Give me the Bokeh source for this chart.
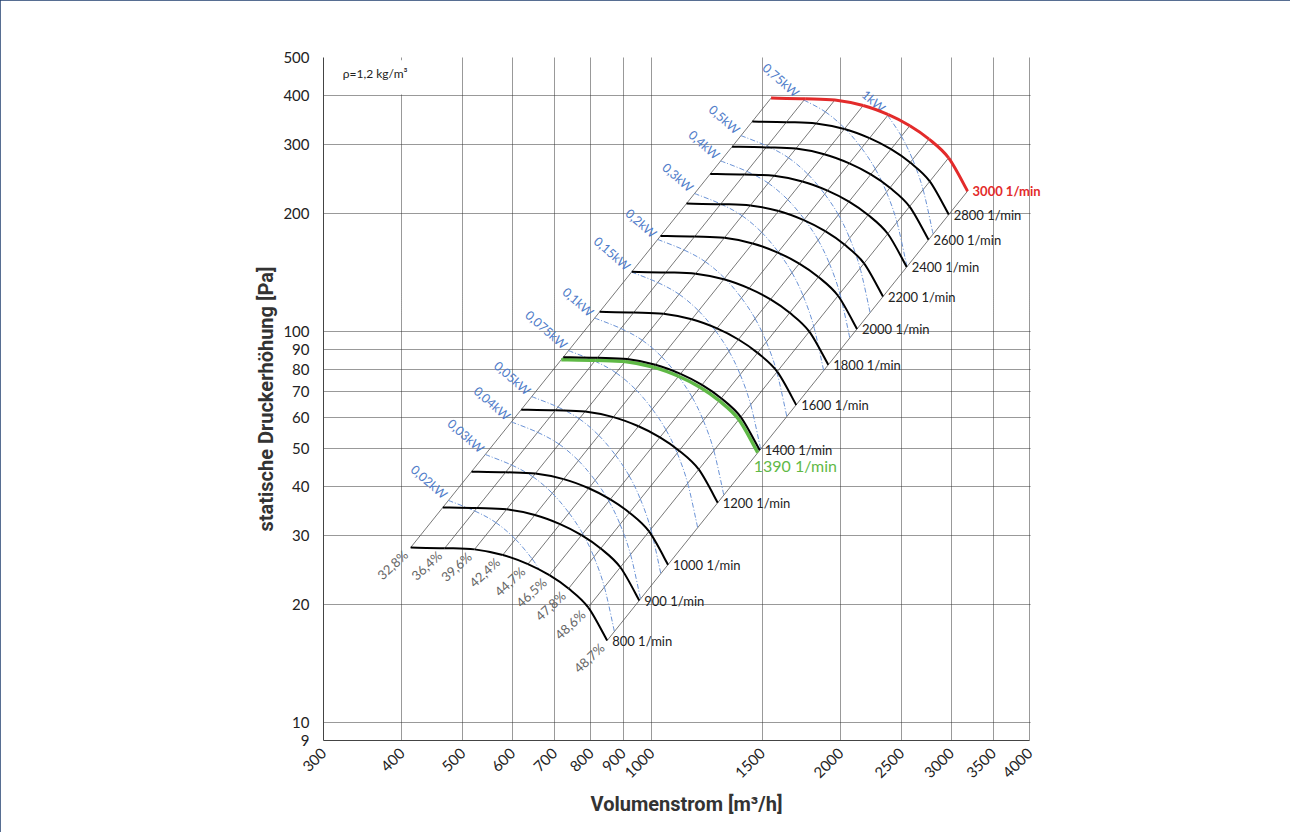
import numpy as np
from bokeh.plotting import figure
from bokeh.models import FixedTicker, PrintfTickFormatter
from bokeh.core.properties import value
from bokeh.embed import file_html
from bokeh.resources import INLINE

# ---------------- data ----------------
# operating points of the 800 1/min curve (one per efficiency line)
base_flow = [413, 468, 522, 579, 635, 687, 737, 792, 849]            # m3/h
base_pressure = [28.0, 27.9, 27.7, 26.8, 25.4, 23.8, 22.0, 19.7, 16.2]  # Pa
efficiency_labels = ["32,8%", "36,4%", "39,6%", "42,4%", "44,7%",
                     "46,5%", "47,8%", "48,6%", "48,7%"]
# shaft power at 800 1/min on each efficiency line (W), estimated from the kW lines
base_power_w = [13.2, 14.4, 15.8, 17.4, 19.1, 20.8, 22.7, 25.1, 27.7]
base_speed = 800
speeds = [800, 900, 1000, 1200, 1400, 1600, 1800, 2000, 2200, 2400, 2600, 2800, 3000]
max_speed = 3000
op_speed = 1390
power_levels_kw = [0.02, 0.03, 0.04, 0.05, 0.075, 0.1, 0.15, 0.2, 0.3, 0.4, 0.5, 0.75, 1.0]
power_labels = ["0,02kW", "0,03kW", "0,04kW", "0,05kW", "0,075kW", "0,1kW", "0,15kW",
                "0,2kW", "0,3kW", "0,4kW", "0,5kW", "0,75kW", "1kW"]
x_ticks = [300, 400, 500, 600, 700, 800, 900, 1000, 1500, 2000, 2500, 3000, 3500, 4000]
y_ticks = [9, 10, 20, 30, 40, 50, 60, 70, 80, 90, 100, 200, 300, 400, 500]
x_axis_min, x_axis_max = 300, 4000
y_axis_min, y_axis_max = 9, 500
density_note = "ρ=1,2 kg/m³"
x_title = "Volumenstrom [m³/h]"
y_title = "statische Druckerhöhung [Pa]"

# ---------------- figure ----------------
# the frame reaches a little past 4000 so the "3000 1/min" label is not clipped;
# that strip is masked white and the axis is bounded to 300..4000
x_frame_max = 4300
FONT = value("Lato")
p = figure(x_axis_type="log", y_axis_type="log",
           x_range=(x_axis_min, x_frame_max), y_range=(y_axis_min, y_axis_max),
           frame_width=726, frame_height=683,
           min_border_left=323, min_border_right=241, min_border_top=57, min_border_bottom=92,
           output_backend="svg", toolbar_location=None,
           styles={"outline": "2px solid #1f3e6e", "outline-offset": "-2px"})
p.background_fill_color = "white"
p.border_fill_color = "white"
p.outline_line_color = None

for ax, ticks in ((p.xaxis, x_ticks), (p.yaxis, y_ticks)):
    ax.ticker = FixedTicker(ticks=ticks)
    ax.formatter = PrintfTickFormatter(format="%d")
    ax.axis_line_color = "#444444"
    ax.axis_line_width = 1
    ax.major_tick_line_color = None
    ax.minor_tick_line_color = None
    ax.major_label_text_font = "Lato"
    ax.major_label_text_font_size = "15px"
    ax.major_label_text_color = "#222222"
    ax.axis_label_text_font = "Roboto"
    ax.axis_label_text_font_size = "20px"
    ax.axis_label_text_font_style = "bold"
    ax.axis_label_text_color = "#333333"

p.xaxis.bounds = (x_axis_min, x_axis_max)
p.xaxis.major_label_orientation = np.pi / 4
p.xaxis.major_label_standoff = 4
p.yaxis.major_label_standoff = 8
p.xaxis.axis_label = x_title
p.yaxis.axis_label = y_title
p.xaxis.axis_label_standoff = 6
p.yaxis.axis_label_standoff = 2

for g, ticks in ((p.xgrid, x_ticks), (p.ygrid, y_ticks)):
    g.ticker = FixedTicker(ticks=ticks)
    g.grid_line_color = "#333333"
    g.grid_line_dash = "1 1"
    g.grid_line_width = 1

# white mask right of the 4000 gridline
p.quad(left=[x_axis_max * 1.003], right=[x_frame_max * 1.1], bottom=[y_axis_min * 0.9],
       top=[y_axis_max * 1.1], fill_color="white", line_color=None)

# white box behind the density note
p.quad(left=[300], right=[455], bottom=[402], top=[492], fill_color="white", line_color=None)
p.text(x=[322], y=[455], text=[density_note], text_font=FONT, text_font_size="12px",
       text_color="#222222", text_align="left", text_baseline="middle")

lx = np.log10(np.array(base_flow, dtype=float))
ly = np.log10(np.array(base_pressure, dtype=float))
tmax = np.log10(max_speed / base_speed)


def smooth_segments(xs, ys):
    """Bezier control points (Catmull-Rom, in log space) for a smoothed line
    through the given points, like a spreadsheet's 'smoothed line' style."""
    X = np.log10(np.asarray(xs, dtype=float))
    Y = np.log10(np.asarray(ys, dtype=float))
    n = len(X)
    seg = {k: [] for k in ("x0", "y0", "x1", "y1", "cx0", "cy0", "cx1", "cy1")}
    for i in range(n - 1):
        im, ip = max(i - 1, 0), min(i + 2, n - 1)
        seg["x0"].append(10 ** X[i]); seg["y0"].append(10 ** Y[i])
        seg["x1"].append(10 ** X[i + 1]); seg["y1"].append(10 ** Y[i + 1])
        seg["cx0"].append(10 ** (X[i] + (X[i + 1] - X[im]) / 6))
        seg["cy0"].append(10 ** (Y[i] + (Y[i + 1] - Y[im]) / 6))
        seg["cx1"].append(10 ** (X[i + 1] - (X[ip] - X[i]) / 6))
        seg["cy1"].append(10 ** (Y[i + 1] - (Y[ip] - Y[i]) / 6))
    return seg


def merge(segs):
    out = {k: [] for k in ("x0", "y0", "x1", "y1", "cx0", "cy0", "cx1", "cy1")}
    for s in segs:
        for k in out:
            out[k].extend(s[k])
    return out


# efficiency (system) lines: from 800 1/min to 3000 1/min
r = max_speed / base_speed
p.multi_line(xs=[[f, f * r] for f in base_flow],
             ys=[[q, q * r * r] for q in base_pressure],
             line_color="#555555", line_width=0.8)


# iso-power lines (power scales with speed cubed along each efficiency line)
def power_line(pw):
    t = np.log10(pw / np.array(base_power_w)) / 3.0
    xs, ys = [], []
    for i in range(len(t) - 1):
        t0, t1 = t[i], t[i + 1]
        lo, hi = 0.0, 1.0
        if t1 != t0:
            fa = (0 - t0) / (t1 - t0)
            fb = (tmax - t0) / (t1 - t0)
            lo = max(lo, min(fa, fb))
            hi = min(hi, max(fa, fb))
        elif not (0 <= t0 <= tmax):
            continue
        if lo > hi:
            continue
        for f in (lo, hi):
            tt = t0 + f * (t1 - t0)
            X = lx[i] + f * (lx[i + 1] - lx[i]) + tt
            Y = ly[i] + f * (ly[i + 1] - ly[i]) + 2 * tt
            pt = (10 ** X, 10 ** Y)
            if not xs or abs(xs[-1] - pt[0]) > 1e-6 or abs(ys[-1] - pt[1]) > 1e-6:
                xs.append(pt[0]); ys.append(pt[1])
    return xs, ys


psegs, lab_x, lab_y = [], [], []
for kw in power_levels_kw:
    xs, ys = power_line(kw * 1000.0)
    psegs.append(smooth_segments(xs, ys))
    lab_x.append(xs[0]); lab_y.append(ys[0])

p.bezier(**merge(psegs), line_color="#6b93d6", line_width=1, line_dash="5 2 1 2")
p.text(x=lab_x, y=lab_y, text=power_labels, text_font=FONT, text_font_size="12.5px",
       text_color="#4f7cc9", text_align="right", text_baseline="middle",
       angle=-0.72, x_offset=-3, y_offset=-4)

# operating curve 1390 1/min (green), under the 1400 curve
ro = op_speed / base_speed
p.bezier(**smooth_segments([f * ro for f in base_flow], [q * ro * ro for q in base_pressure]),
         line_color="#5fb946", line_width=3.5)

# fan curves
black_segs, end_x, end_y, end_lab = [], [], [], []
for n in speeds:
    rr = n / base_speed
    xs = [f * rr for f in base_flow]
    ys = [q * rr * rr for q in base_pressure]
    if n == max_speed:
        p.bezier(**smooth_segments(xs, ys), line_color="#e32b2b", line_width=3)
        p.text(x=[xs[-1]], y=[ys[-1]], text=[f"{n} 1/min"], text_font=FONT,
               text_font_size="13px", text_font_style="bold", text_color="#e32b2b",
               text_align="left", text_baseline="middle", x_offset=5)
    else:
        black_segs.append(smooth_segments(xs, ys))
        end_x.append(xs[-1]); end_y.append(ys[-1]); end_lab.append(f"{n} 1/min")

p.bezier(**merge(black_segs), line_color="#000000", line_width=2)
p.text(x=end_x, y=end_y, text=end_lab, text_font=FONT, text_font_size="13px",
       text_color="#222222", text_align="left", text_baseline="middle", x_offset=5)

p.text(x=[base_flow[-1] * ro], y=[base_pressure[-1] * ro * ro], text=[f"{op_speed} 1/min"],
       text_font=FONT, text_font_size="16px", text_color="#5fb946",
       text_align="left", text_baseline="top", x_offset=-4, y_offset=3)

# efficiency labels at the 800 1/min end of each line
p.text(x=base_flow, y=base_pressure, text=efficiency_labels, text_font=FONT,
       text_font_size="13px", text_color="#666666", text_align="right",
       text_baseline="middle", angle=0.75, x_offset=-5, y_offset=5)

open("out.html", "w").write(file_html(p, INLINE))
